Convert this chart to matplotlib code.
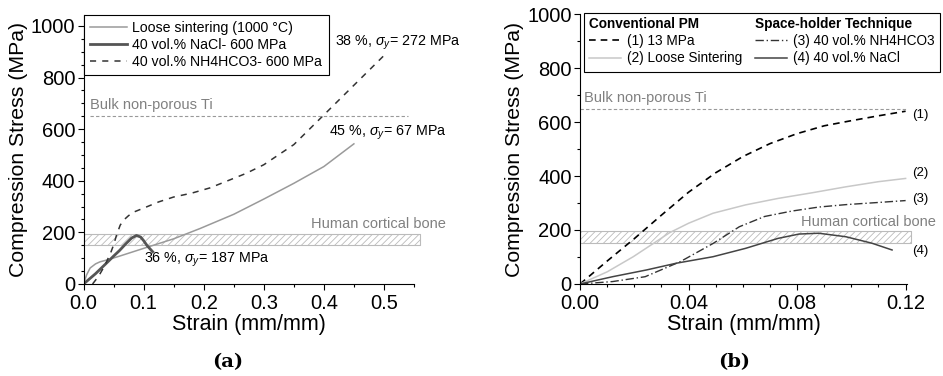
import numpy as np
import matplotlib.pyplot as plt
from matplotlib.ticker import MultipleLocator
from matplotlib.patches import Rectangle

plt.rcParams['font.family'] = ['Liberation Sans', 'DejaVu Sans']
plt.rcParams['mathtext.fontset'] = 'custom'
plt.rcParams['mathtext.rm'] = 'Liberation Sans'
plt.rcParams['mathtext.it'] = 'Liberation Sans:italic'
plt.rcParams['hatch.linewidth'] = 0.6

# ---- panel (a) data ----
loose_a_x = [0, 0.005, 0.011, 0.02, 0.0275, 0.039, 0.06, 0.08, 0.1, 0.15, 0.194, 0.25, 0.3, 0.35, 0.4, 0.45]
loose_a_y = [0, 35, 62, 78, 86, 93, 108, 123, 138, 175, 215, 270, 329, 390, 455, 543]
nacl_a_x = [0, 0.02, 0.04, 0.05, 0.06, 0.07, 0.08, 0.088, 0.095, 0.1, 0.106, 0.115]
nacl_a_y = [0, 40, 85, 108, 130, 155, 178, 188, 182, 168, 148, 125]
nh4_a_x = [0.015, 0.025, 0.035, 0.045, 0.05, 0.055, 0.061, 0.067, 0.075, 0.085, 0.1, 0.125,
           0.15, 0.18, 0.21, 0.24, 0.27, 0.3, 0.35, 0.4, 0.45, 0.5, 0.505]
nh4_a_y = [0, 30, 70, 120, 151, 190, 228, 248, 265, 280, 294, 318,
           337, 352, 372, 400, 428, 462, 540, 655, 770, 885, 897]

# ---- panel (b) data ----
pm13_x = [0, 0.01, 0.02, 0.03, 0.04, 0.05, 0.06, 0.07, 0.08, 0.09, 0.1, 0.11, 0.12]
pm13_y = [0, 85, 168, 255, 340, 412, 472, 520, 557, 586, 605, 623, 640]
loose_b_x = [0, 0.01, 0.0196, 0.027, 0.033, 0.04, 0.049, 0.061, 0.073, 0.0856, 0.098, 0.11, 0.12]
loose_b_y = [0, 45, 101, 150, 190, 225, 262, 293, 317, 338, 360, 379, 391]
nh4_b_x = [0, 0.012, 0.024, 0.037, 0.049, 0.0587, 0.068, 0.078, 0.088, 0.098, 0.11, 0.12]
nh4_b_y = [0, 9, 27, 83, 150, 212, 250, 270, 285, 294, 302, 309]
nacl_b_x = [0, 0.012, 0.0245, 0.0355, 0.049, 0.061, 0.073, 0.0807, 0.088, 0.098, 0.1076, 0.115]
nacl_b_y = [0, 27, 52, 77, 101, 132, 169, 185, 188, 175, 151, 126]

bulk_ti = 650
bone_lo, bone_hi = 150, 195

fig = plt.figure(figsize=(9.43, 3.76), dpi=100)
ax1 = fig.add_axes([0.0886, 0.2447, 0.3504, 0.7153])
ax2 = fig.add_axes([0.6151, 0.2447, 0.3467, 0.7180])

for ax in (ax1, ax2):
    ax.spines['top'].set_visible(False)
    ax.spines['right'].set_visible(False)
    ax.tick_params(which='both', direction='out', labelsize=14.5, width=0.8)
    ax.tick_params(axis='x', pad=3)
    ax.tick_params(axis='y', pad=2)
    ax.tick_params(which='major', length=4)
    ax.tick_params(which='minor', length=2.5)
    ax.set_xlabel('Strain (mm/mm)', fontsize=15.5, labelpad=1)
    ax.set_ylabel('Compression Stress (MPa)', fontsize=15.3, labelpad=2)

# ---- (a) ----
ax1.plot(loose_a_x, loose_a_y, color='#9a9a9a', lw=1.1, label='Loose sintering (1000 °C)')
ax1.plot(nacl_a_x, nacl_a_y, color='#555555', lw=2.0, label='40 vol.% NaCl- 600 MPa')
ax1.plot(nh4_a_x, nh4_a_y, color='#333333', lw=1.1, ls=(0, (4, 4)), label='40 vol.% NH4HCO3- 600 MPa')
ax1.plot([0.01, 0.54], [bulk_ti, bulk_ti], color='#999999', lw=0.8, ls=(0, (3, 2)))
ax1.fill_between([0, 0.56], bone_lo, bone_hi, facecolor='white', edgecolor='#bbbbbb',
                 hatch='/////', lw=0.8, clip_on=False, zorder=0)
ax1.text(0.01, 665, 'Bulk non-porous Ti', color='#808080', fontsize=10.5, va='bottom')
ax1.text(0.603, 205, 'Human cortical bone', color='#808080', fontsize=10.5, ha='right',
         va='bottom', clip_on=False)
ax1.text(0.418, 933, r'38 %, $\sigma_y$= 272 MPa', fontsize=10.3, va='center')
ax1.text(0.408, 585, r'45 %, $\sigma_y$= 67 MPa', fontsize=10.3, va='center')
ax1.text(0.1, 93, r'36 %, $\sigma_y$= 187 MPa', fontsize=10.3, va='center')
ax1.set_xlim(0, 0.55)
ax1.set_ylim(0, 1042)
ax1.xaxis.set_minor_locator(MultipleLocator(0.05))
ax1.yaxis.set_major_locator(MultipleLocator(200))
ax1.yaxis.set_minor_locator(MultipleLocator(50))
ax1.set_xticks([0, 0.1, 0.2, 0.3, 0.4, 0.5])
ax1.set_xticklabels(['0.0', '0.1', '0.2', '0.3', '0.4', '0.5'])
leg = ax1.legend(loc='upper left', bbox_to_anchor=(0, 1), borderaxespad=0, fontsize=10.2,
                 fancybox=False, edgecolor='black', framealpha=1, handlelength=2.6,
                 labelspacing=0.2, borderpad=0.45, handletextpad=0.4)
leg.get_frame().set_linewidth(0.8)

# ---- (b) ----
l1, = ax2.plot(pm13_x, pm13_y, color='black', lw=1.2, ls=(0, (4, 3)))
l2, = ax2.plot(loose_b_x, loose_b_y, color='#c8c8c8', lw=1.1)
l3, = ax2.plot(nh4_b_x, nh4_b_y, color='#333333', lw=1.0, ls=(0, (6, 2, 1, 2)))
l4, = ax2.plot(nacl_b_x, nacl_b_y, color='#444444', lw=1.1)
ax2.plot([0, 0.12], [bulk_ti, bulk_ti], color='#999999', lw=0.8, ls=(0, (3, 2)))
ax2.fill_between([0, 0.1221], bone_lo, bone_hi, facecolor='white', edgecolor='#bbbbbb',
                 hatch='/////', lw=0.8, clip_on=False, zorder=0)
ax2.text(0.0015, 663, 'Bulk non-porous Ti', color='#808080', fontsize=10.5, va='bottom')
ax2.text(0.1312, 204, 'Human cortical bone', color='#808080', fontsize=10.5, ha='right',
         va='bottom', clip_on=False)
for lab, yv in [('(1)', 626), ('(2)', 410), ('(3)', 315), ('(4)', 123)]:
    ax2.text(0.1225, yv, lab, fontsize=9.5, va='center', clip_on=False)
ax2.set_xlim(0, 0.1205)
ax2.set_ylim(0, 1000)
ax2.set_xticks([0, 0.04, 0.08, 0.12])
ax2.set_xticklabels(['0.00', '0.04', '0.08', '0.12'])
ax2.xaxis.set_minor_locator(MultipleLocator(0.01))
ax2.yaxis.set_major_locator(MultipleLocator(200))
ax2.yaxis.set_minor_locator(MultipleLocator(100))

leg_kw = dict(loc='upper left', borderaxespad=0, frameon=False, fontsize=9.8, alignment='left',
              handlelength=2.4, labelspacing=0.25, handletextpad=0.4, borderpad=0.35)
legA = ax2.legend([l1, l2], ['(1) 13 MPa', '(2) Loose Sintering'], bbox_to_anchor=(0.012, 1.008),
                  title='Conventional PM', title_fontproperties={'weight': 'bold', 'size': 9.8},
                  **leg_kw)
ax2.add_artist(legA)
ax2.legend([l3, l4], ['(3) 40 vol.% NH4HCO3', '(4) 40 vol.% NaCl'], bbox_to_anchor=(0.52, 1.008),
           title='Space-holder Technique', title_fontproperties={'weight': 'bold', 'size': 9.8},
           **leg_kw)
ax2.add_patch(Rectangle((0.012, 0.785), 1.088, 0.219, transform=ax2.transAxes, fill=False,
                        lw=0.8, edgecolor='black', clip_on=False))

fig.text(0.241, 0.037, '(a)', fontsize=14, ha='center', va='center', family='DejaVu Serif', weight='bold')
fig.text(0.779, 0.037, '(b)', fontsize=14, ha='center', va='center', family='DejaVu Serif', weight='bold')

fig.savefig('out.png', dpi=100)
